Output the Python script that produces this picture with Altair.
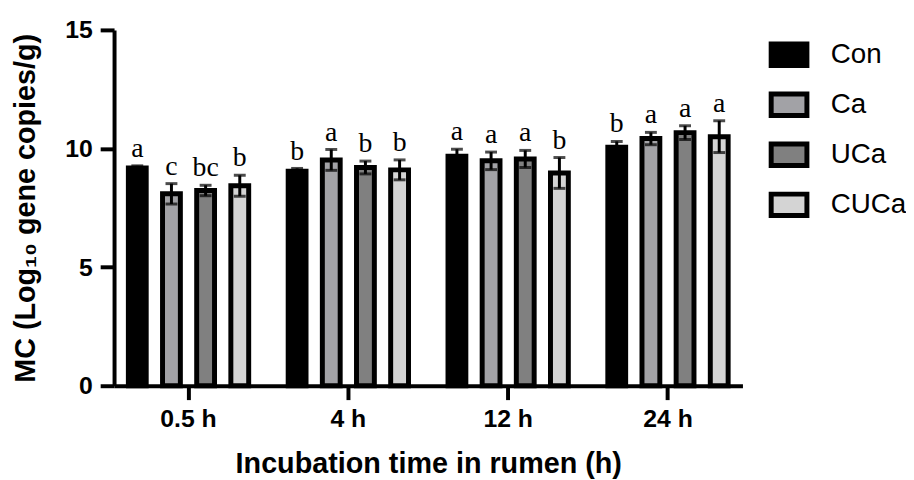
import altair as alt
import pandas as pd

times = ["0.5 h", "4 h", "12 h", "24 h"]
groups = ["Con", "Ca", "UCa", "CUCa"]
colors = ["#000000", "#a2a2a6", "#808080", "#d4d4d4"]

means = {
    "Con": [9.18, 9.04, 9.67, 10.05],
    "Ca": [8.09, 9.52, 9.48, 10.42],
    "UCa": [8.23, 9.20, 9.56, 10.67],
    "CUCa": [8.43, 9.10, 8.97, 10.50],
}
sds = {
    "Con": [0.09, 0.12, 0.30, 0.25],
    "Ca": [0.43, 0.44, 0.37, 0.26],
    "UCa": [0.22, 0.27, 0.36, 0.29],
    "CUCa": [0.44, 0.42, 0.65, 0.67],
}
letters = {
    "Con": ["a", "b", "a", "b"],
    "Ca": ["c", "a", "a", "a"],
    "UCa": ["bc", "b", "a", "a"],
    "CUCa": ["b", "b", "b", "a"],
}

rows = []
for g in groups:
    for i, t in enumerate(times):
        m, s = means[g][i], sds[g][i]
        rows.append({"time": t, "group": g, "mean": m, "lo": m - s, "hi": m + s,
                     "letter": letters[g][i]})
df = pd.DataFrame(rows)

xs = alt.X("time:N", sort=times,
           scale=alt.Scale(domain=times, paddingInner=0.145, paddingOuter=0.0385),
           axis=alt.Axis(title="Incubation time in rumen (h)", labelAngle=0,
                         titleY=88, titleBaseline="alphabetic", titleFontSize=29,
                         labelPadding=7))
xo = alt.XOffset("group:N", sort=groups,
                 scale=alt.Scale(domain=groups, paddingInner=0, paddingOuter=0))
ys = alt.Y("mean:Q", scale=alt.Scale(domain=[0, 15], nice=False),
           axis=alt.Axis(title="MC (Log₁₀ gene copies/g)", values=[0, 5, 10, 15],
                         titleX=-89, titleY=179.5, titleBaseline="middle",
                         titleAlign="center", titleAngle=270, titleFontSize=29,
                         labelPadding=8))

base = alt.Chart(df)

bars = base.mark_bar(width=18, stroke="black", strokeWidth=5).encode(
    x=xs, xOffset=xo, y=ys,
    fill=alt.Fill("group:N", sort=groups,
                  scale=alt.Scale(domain=groups, range=colors),
                  legend=alt.Legend(title=None, orient="none", legendX=660, legendY=4,
                                    symbolType="M-1,-0.6H1V0.6H-1Z", symbolSize=1300,
                                    symbolStrokeColor="black", symbolStrokeWidth=5,
                                    symbolOpacity=1,
                                    labelFont="Liberation Sans", labelFontSize=28,
                                    labelColor="black", labelOffset=21, rowPadding=8.5)),
)

rules = base.mark_rule(color="black", strokeWidth=3).encode(
    x=alt.X("time:N", sort=times), xOffset=xo, y="lo:Q", y2="hi:Q"
)
caps_hi = base.mark_tick(color="black", thickness=3, size=12, orient="horizontal").encode(
    x=alt.X("time:N", sort=times), xOffset=xo, y="hi:Q"
)
caps_lo = base.mark_tick(color="black", thickness=3, size=12, orient="horizontal").encode(
    x=alt.X("time:N", sort=times), xOffset=xo, y="lo:Q"
)
text = base.mark_text(font="Liberation Serif", fontSize=28, baseline="alphabetic",
                      dy=-9, color="black").encode(
    x=alt.X("time:N", sort=times), xOffset=xo, y="hi:Q", text="letter:N"
)

chart = alt.layer(bars, rules, caps_lo, caps_hi, text).properties(
    width=634, height=359,
    autosize=alt.AutoSizeParams(type="none"),
    padding={"left": 107, "top": 20, "right": 165, "bottom": 93},
).configure_view(stroke=None).configure_axis(
    grid=False, domainColor="black", domainWidth=4, tickColor="black", tickWidth=4,
    tickSize=14, labelFont="Liberation Sans", labelFontWeight="bold", labelFontSize=25,
    labelColor="black", titleFont="Liberation Sans", titleFontWeight="bold",
    titleColor="black"
)

chart.save("out.html", embed_options={"renderer": "svg", "actions": False})
